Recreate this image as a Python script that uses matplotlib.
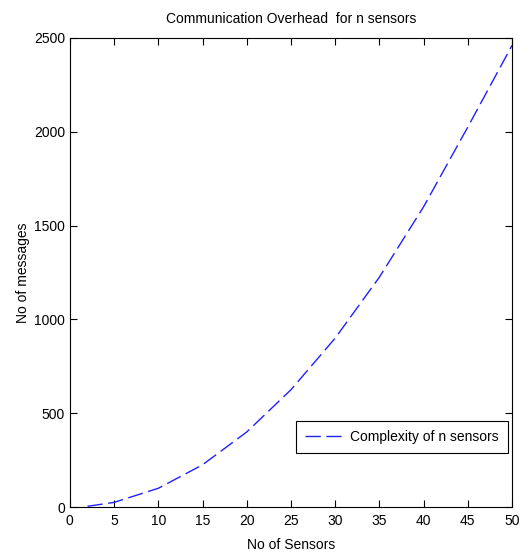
import matplotlib
matplotlib.use("Agg")
import matplotlib.pyplot as plt

plt.rcParams['font.family'] = ['Liberation Sans', 'DejaVu Sans']

sensors = [2, 5, 10, 15, 20, 25, 30, 35, 40, 45, 50]
messages = [4, 25, 100, 225, 400, 625, 900, 1225, 1600, 2025, 2460]
xticks = [0, 5, 10, 15, 20, 25, 30, 35, 40, 45, 50]
yticks = [0, 500, 1000, 1500, 2000, 2500]

fig = plt.figure(figsize=(5.29, 5.56), dpi=100)
ax = fig.add_axes([0.132, 0.088, 0.836, 0.844])
ax.plot(sensors, messages, color='#2020ff', linestyle=(0, (11, 4)), linewidth=1.0,
        label='Complexity of n sensors')
ax.set_xlim(0, 50)
ax.set_ylim(0, 2500)
ax.set_xticks(xticks)
ax.set_yticks(yticks)
ax.tick_params(axis='x', pad=5)
ax.tick_params(direction='in', top=True, right=True, length=5, width=0.8,
               labelsize=10)
for s in ax.spines.values():
    s.set_linewidth(0.8)
ax.set_title('Communication Overhead  for n sensors', fontsize=10, pad=11)
ax.set_xlabel('No of Sensors', fontsize=10, labelpad=7)
ax.set_ylabel('No of messages', fontsize=10, labelpad=3)
leg = ax.legend(loc='lower right', bbox_to_anchor=(0.991, 0.115), fontsize=10,
                fancybox=False, framealpha=1, edgecolor='black',
                handlelength=2.9, handletextpad=0.35, borderpad=0.65,
                borderaxespad=0)
leg.get_frame().set_linewidth(0.8)
fig.savefig('out.png', dpi=100)
